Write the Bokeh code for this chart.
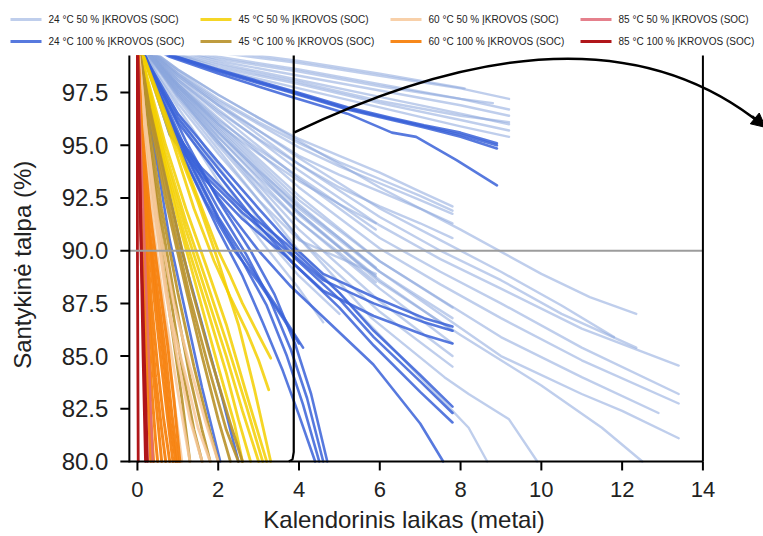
import math
from bokeh.plotting import figure
from bokeh.layouts import column
from bokeh.core.properties import value
from bokeh.models import Arrow, NormalHead, Range1d
from bokeh.embed import file_html
from bokeh.resources import INLINE

FONT = "Liberation Sans"

# ---------------- data (time in years, relative capacity in %) ----------------
x_ticks = [0, 2, 4, 6, 8, 10, 12, 14]
y_ticks = [80.0, 82.5, 85.0, 87.5, 90.0, 92.5, 95.0, 97.5]
x_title = "Kalendorinis laikas (metai)"
y_title = "Santykinė talpa (%)"

series_labels = [
    "24 °C 50 % ĮKROVOS (SOC)", "24 °C 100 % ĮKROVOS (SOC)",
    "45 °C 50 % ĮKROVOS (SOC)", "45 °C 100 % ĮKROVOS (SOC)",
    "60 °C 50 % ĮKROVOS (SOC)", "60 °C 100 % ĮKROVOS (SOC)",
    "85 °C 50 % ĮKROVOS (SOC)", "85 °C 100 % ĮKROVOS (SOC)",
]

# 24 °C, 50 % SOC
t24_50 = [
    [0, 1, 2, 4, 6, 8, 9.2], [0, 1, 2, 4, 6, 8, 9.2], [0, 1, 2, 4, 6, 8, 9.2],
    [0, 1, 2, 4, 6, 8, 9.2], [0, 1, 2, 4, 6, 8, 9.2], [0, 1, 2, 4, 6, 8, 9.2],
    [0, 1, 2, 4, 6, 8.1], [0, 1, 2, 4, 6, 8, 9.2], [0, 1, 2, 4, 6, 8, 8.8],
    [0, 1, 2, 3, 4, 5, 6, 7, 7.8], [0, 1, 2, 3, 4, 5, 6, 7, 7.8],
    [0, 1, 2, 3, 4, 5, 6, 7, 7.8], [0, 1, 2, 3, 4, 5, 6, 7, 7.8],
    [0, 1, 2, 3, 4, 5, 6, 7, 7.8],
    [0, 1, 2, 3, 4, 5, 5.9], [0, 1, 2, 3, 4, 5, 5.9],
    [0, 1, 2, 4, 6, 8, 10, 11.2, 12.35],
    [0, 1, 2, 4, 6, 7.5, 9, 10.5, 11.8],
    [0, 1, 2, 4, 6, 7.5, 9, 10.5, 12.35],
    [0, 1, 2, 4, 6, 7.5, 9, 11, 13.4],
    [0, 1, 2, 4, 6, 7.5, 9, 11, 13.4],
    [0, 1, 2, 4, 6, 7.5, 9, 11, 13.4],
    [0, 1, 2, 4, 6, 7.5, 9, 11, 12.9],
    [0, 1, 2, 4, 6, 7.5, 9, 11, 12, 13.4],
    [0, 1, 2, 4, 6, 8, 10, 11.5, 12.5],
    [0, 1, 2, 4, 5.8, 7.6, 8.2, 9.2, 9.9],
    [0, 1, 2, 4, 6, 7.6, 8.2, 8.66],
    [0, 1, 2, 4, 6, 7.8], [0, 1, 2, 4, 6, 7.8], [0, 1, 2, 4, 6, 7.8],
    [0, 1, 2, 4, 6, 7.8], [0, 1, 2, 4, 6, 7.8], [0, 1, 2, 4, 6, 7.8],
    [0, 1, 2, 3, 4, 5, 5.9], [0, 1, 2, 3, 4, 5, 5.9], [0, 1, 2, 3, 4, 5, 5.9],
    [0, 0.5, 1, 2, 3, 3.9], [0, 0.5, 1, 2, 3, 4, 4.6], [0, 0.5, 1, 2, 3, 4, 5.0],
    [0, 0.5, 1, 2, 3, 4, 5.9],
]
q24_50 = [
    [100, 99.7, 99.4, 98.9, 98.3, 97.7, 97.2], [100, 99.6, 99.2, 98.6, 97.9, 97.2, 96.7],
    [100, 99.5, 99.0, 98.3, 97.6, 96.9, 96.4], [100, 99.4, 98.9, 98.1, 97.3, 96.5, 96.0],
    [100, 99.3, 98.7, 97.9, 97.0, 96.2, 95.7], [100, 99.2, 98.6, 97.7, 96.8, 95.9, 95.4],
    [100, 99.7, 99.5, 99.0, 98.4, 97.7], [100, 99.3, 98.8, 98.0, 97.1, 96.4, 96.1],
    [100, 99.5, 99.1, 98.5, 97.8, 97.2, 97.0],
    [100, 98.6, 97.4, 96.3, 95.3, 94.5, 93.7, 92.8, 92.1],
    [100, 98.4, 97.1, 96.0, 94.9, 94.0, 93.2, 92.4, 91.75],
    [100, 98.3, 96.9, 95.7, 94.5, 93.6, 92.8, 92.0, 91.3],
    [100, 98.1, 96.6, 95.3, 94.1, 93.0, 92.1, 91.3, 90.6],
    [100, 98.5, 97.2, 96.1, 95.1, 94.2, 93.4, 92.6, 91.9],
    [100, 97.9, 96.2, 94.8, 93.5, 92.2, 91.0], [100, 97.8, 96.0, 94.6, 93.3, 92.2, 91.3],
    [100, 98.6, 97.4, 95.2, 93.0, 91.0, 88.9, 87.8, 87.0],
    [100, 98.4, 97.0, 94.4, 92.0, 90.5, 89.0, 87.4, 85.9],
    [100, 98.3, 96.9, 94.1, 91.6, 90.0, 88.6, 87.0, 85.4],
    [100, 98.2, 96.7, 93.8, 91.2, 89.6, 88.2, 86.3, 84.55],
    [100, 98.1, 96.5, 93.4, 90.6, 89.0, 87.5, 85.4, 83.2],
    [100, 98.0, 96.3, 93.0, 90.1, 88.4, 86.8, 84.8, 82.75],
    [100, 97.9, 96.1, 92.6, 89.5, 87.7, 85.9, 84.0, 82.3],
    [100, 97.8, 95.9, 92.2, 89.0, 87.0, 85.0, 83.2, 82.4, 81.1],
    [100, 97.7, 95.7, 91.8, 88.5, 86.0, 83.6, 81.6, 80.0],
    [100, 97.4, 95.2, 90.6, 86.8, 84.0, 83.2, 82.0, 80.0],
    [100, 97.2, 94.8, 90.0, 86.0, 82.8, 81.6, 80.0],
    [100, 97.9, 96.0, 92.4, 89.5, 87.3], [100, 97.8, 95.8, 92.0, 89.0, 86.8],
    [100, 97.6, 95.4, 91.4, 88.2, 85.6], [100, 97.5, 95.2, 91.0, 87.6, 85.0],
    [100, 97.4, 95.0, 90.6, 87.1, 84.5], [100, 97.7, 95.6, 91.7, 88.6, 86.2],
    [100, 97.5, 95.4, 93.5, 91.8, 90.2, 88.8], [100, 97.3, 95.1, 93.2, 91.4, 89.9, 88.5],
    [100, 97.6, 95.6, 93.8, 92.1, 90.6, 89.2],
    [100, 98.3, 96.8, 94.0, 91.5, 89.3], [100, 98.0, 96.3, 93.3, 90.6, 88.2, 86.6],
    [100, 98.1, 96.5, 93.6, 91.0, 88.8, 87.0], [100, 98.4, 97.0, 94.6, 92.4, 90.5, 88.9],
]

# 24 °C, 100 % SOC
t24_100 = [
    [0, 0.8, 2, 3.8, 5.2, 6.3, 7.1, 8, 8.9], [0, 0.8, 2, 3.8, 5.2, 6.3, 7.1, 8, 8.9],
    [0, 0.8, 2, 3.8, 5.2, 6.3, 7.1, 8, 8.9], [0, 0.8, 2, 3.8, 5.2, 6.3, 6.9, 7.9, 8.9],
    [0, 0.3, 1, 2, 3, 3.8, 4.6, 5.85, 7.1, 7.8], [0, 0.3, 1, 2, 3, 3.8, 4.6, 5.85, 7.1, 7.8],
    [0, 0.3, 1, 2, 3, 3.8, 4.6, 5.85, 7.1, 7.8],
    [0, 0.2, 0.8, 1.6, 2.6, 3.7, 5.0, 5.85, 7.0, 7.8],
    [0, 0.2, 0.8, 1.6, 2.6, 3.7, 5.0, 5.85, 7.0, 7.8],
    [0, 0.2, 0.8, 1.6, 2.6, 3.7, 5.0, 5.85, 7.0, 7.8],
    [0, 0.3, 1, 2, 3, 3.8, 5.84, 7.0, 7.57],
    [0, 0.5, 1.2, 2.0, 2.6, 3.2, 3.7, 4.1, 4.5],
    [0, 0.5, 1.2, 2.0, 2.7, 3.3, 3.8, 4.2, 4.6],
    [0, 0.5, 1.2, 2.0, 2.8, 3.4, 3.9, 4.3, 4.7],
    [0, 0.5, 1.2, 2.0, 2.6, 3.1, 3.6, 4.0, 4.4],
    [0, 0.5, 1.2, 2.0, 2.8, 3.5, 4.1],
    [0, 0.2, 0.5, 0.8, 1.2, 1.6, 2.05],
    [0, 0.3, 0.7, 1.1, 1.6, 2.1, 2.5],
    [0, 0.4, 1.0, 1.7, 2.4, 3.0, 3.6, 4.0],
]
q24_100 = [
    [100, 99.3, 98.6, 97.6, 96.8, 96.3, 95.95, 95.6, 95.1],
    [100, 99.25, 98.5, 97.5, 96.7, 96.2, 95.85, 95.4, 94.85],
    [100, 99.3, 98.55, 97.55, 96.75, 96.25, 95.9, 95.5, 95.0],
    [100, 99.2, 98.4, 97.3, 96.5, 95.6, 95.4, 94.3, 93.1],
    [100, 98.8, 96.5, 94.2, 92.0, 90.3, 88.9, 87.8, 86.8, 86.4],
    [100, 98.7, 96.3, 93.9, 91.6, 89.9, 88.6, 87.5, 86.6, 86.2],
    [100, 98.6, 96.1, 93.6, 91.2, 89.5, 88.1, 86.9, 86.0, 85.6],
    [100, 99.2, 95.9, 93.9, 92.0, 90.3, 88.0, 86.2, 84.1, 82.6],
    [100, 99.1, 95.7, 93.7, 91.8, 90.0, 87.7, 85.9, 83.8, 82.3],
    [100, 99.0, 95.5, 93.5, 91.5, 89.7, 87.3, 85.5, 83.3, 81.85],
    [100, 98.5, 95.5, 92.5, 90.0, 88.3, 84.6, 81.8, 80.0],
    [100, 97.6, 94.5, 91.5, 89.5, 87.4, 85.0, 82.7, 80.0],
    [100, 97.8, 94.8, 92.0, 89.8, 87.6, 85.3, 83.0, 80.0],
    [100, 98.0, 95.2, 92.4, 90.0, 87.9, 85.6, 83.2, 80.0],
    [100, 97.4, 94.2, 91.0, 88.8, 86.6, 84.3, 82.2, 80.0],
    [100, 97.6, 94.6, 91.6, 89.2, 87.2, 85.4],
    [100, 97.0, 94.0, 90.5, 87.0, 83.5, 80.0],
    [100, 97.0, 93.5, 90.0, 86.5, 83.0, 80.0],
    [100, 97.9, 95.0, 92.3, 90.0, 88.5, 86.8, 85.6],
]

# 45 °C, 50 % SOC
t45_50 = [
    [0, 0.3, 0.7, 1.2, 1.7, 2.2, 2.7, 3.2], [0, 0.3, 0.7, 1.2, 1.7, 2.2, 2.7, 3.1],
    [0, 0.3, 0.7, 1.2, 1.7, 2.2, 2.6, 3.0], [0, 0.3, 0.7, 1.2, 1.7, 2.2, 2.5, 2.8],
    [0, 0.3, 0.6, 1.0, 1.5, 2.0, 2.4, 2.6],
    [0, 0.4, 0.9, 1.5, 2.0, 2.3, 2.6, 3.0, 3.3],
    [0, 0.4, 0.9, 1.4, 1.9, 2.3, 2.7, 3.0, 3.25],
    [0, 0.4, 0.9, 1.5, 2.0, 2.5, 2.9, 3.3],
]
q45_50 = [
    [100, 97.8, 95.0, 92.0, 89.3, 86.5, 83.2, 80.0], [100, 97.6, 94.6, 91.4, 88.6, 85.7, 82.6, 80.0],
    [100, 97.4, 94.3, 91.0, 88.0, 85.0, 82.4, 80.0], [100, 97.2, 94.0, 90.5, 87.4, 84.2, 82.0, 80.0],
    [100, 97.0, 94.6, 91.5, 88.0, 84.5, 81.8, 80.0],
    [100, 98.0, 95.5, 92.5, 90.0, 88.8, 87.5, 86.0, 84.9],
    [100, 97.8, 95.0, 92.0, 89.5, 87.8, 86.2, 84.8, 83.4],
    [100, 97.9, 95.3, 92.3, 89.5, 86.5, 83.4, 80.0],
]

# 45 °C, 100 % SOC
t45_100 = [
    [0, 0.3, 0.8, 1.3, 1.8, 2.3, 2.6], [0, 0.3, 0.8, 1.3, 1.8, 2.2, 2.5],
    [0, 0.3, 0.7, 1.2, 1.6, 2.0, 2.3], [0, 0.25, 0.6, 1.0, 1.4, 1.8, 2.0],
    [0, 0.2, 0.5, 0.9, 1.3, 1.6, 1.8], [0, 0.2, 0.5, 0.8, 1.1, 1.4, 1.6],
    [0, 0.2, 0.5, 0.8, 1.1, 1.3],
]
q45_100 = [
    [100, 96.8, 92.5, 88.5, 85.0, 81.8, 80.0], [100, 96.6, 92.0, 87.8, 84.2, 81.5, 80.0],
    [100, 96.4, 92.4, 88.2, 85.0, 82.0, 80.0], [100, 96.4, 92.0, 88.0, 84.5, 81.4, 80.0],
    [100, 96.5, 92.5, 88.0, 84.0, 81.5, 80.0], [100, 96.2, 92.0, 88.0, 84.5, 81.5, 80.0],
    [100, 95.5, 91.0, 87.0, 83.0, 80.0],
]

# 60 °C, 50 % SOC
t60_50 = [
    [0, 0.2, 0.5, 0.9, 1.3, 1.7, 2.0], [0, 0.2, 0.5, 0.8, 1.2, 1.5, 1.8],
    [0, 0.2, 0.4, 0.7, 1.0, 1.3, 1.6], [0, 0.15, 0.4, 0.7, 1.0, 1.3],
    [0, 0.15, 0.35, 0.6, 0.9, 1.1], [0, 0.1, 0.3, 0.55, 0.8, 0.95],
]
q60_50 = [
    [100, 96.0, 91.5, 87.5, 84.5, 81.8, 80.0], [100, 96.0, 91.0, 87.0, 84.0, 81.6, 80.0],
    [100, 95.5, 92.0, 88.0, 84.8, 82.0, 80.0], [100, 95.5, 91.0, 86.8, 83.3, 80.0],
    [100, 95.0, 91.0, 87.0, 83.0, 80.0], [100, 95.5, 91.0, 86.5, 82.5, 80.0],
]

# 60 °C, 100 % SOC
t60_100 = [
    [0, 0.1, 0.3, 0.5, 0.75, 0.9, 1.05], [0, 0.1, 0.3, 0.5, 0.7, 0.85, 1.0],
    [0, 0.1, 0.25, 0.45, 0.65, 0.8, 0.95], [0, 0.1, 0.2, 0.4, 0.6, 0.75, 0.88],
    [0, 0.08, 0.2, 0.35, 0.5, 0.65, 0.8], [0, 0.07, 0.18, 0.3, 0.45, 0.6, 0.7],
    [0, 0.06, 0.15, 0.25, 0.4, 0.5, 0.6], [0, 0.05, 0.12, 0.22, 0.33, 0.45, 0.5],
    [0, 0.05, 0.1, 0.2, 0.3, 0.4], [0, 0.04, 0.09, 0.17, 0.26, 0.33],
]
q60_100 = [
    [100, 96.0, 92.0, 89.0, 85.5, 83.0, 80.0], [100, 95.5, 91.0, 88.0, 85.0, 82.3, 80.0],
    [100, 95.5, 91.5, 88.0, 84.8, 82.0, 80.0], [100, 95.0, 92.0, 88.0, 84.5, 82.0, 80.0],
    [100, 95.0, 91.0, 87.5, 84.5, 82.0, 80.0], [100, 95.0, 91.0, 87.5, 84.0, 81.5, 80.0],
    [100, 95.0, 91.0, 88.0, 84.0, 82.0, 80.0], [100, 95.0, 91.0, 87.5, 84.0, 81.0, 80.0],
    [100, 95.5, 91.5, 87.0, 83.0, 80.0], [100, 95.5, 91.0, 86.5, 83.0, 80.0],
]

# 85 °C, 50 % SOC
t85_50 = [[0, 0.08, 0.18, 0.28, 0.38]]
q85_50 = [[100, 95.0, 90.0, 85.0, 80.0]]

# 85 °C, 100 % SOC
t85_100 = [[0, 0.0, 0.0, 0.01, 0.02], [0, 0.04, 0.09, 0.14, 0.2], [0, 0.05, 0.1, 0.17, 0.25]]
q85_100 = [[100, 95.0, 90.0, 85.0, 80.0], [100, 95.0, 90.0, 85.0, 80.0], [100, 95.0, 90.0, 85.0, 80.0]]

# ---------------- geometry ----------------
W, H_LEG, H_MAIN = 763, 55, 481
X_START, X_END = -3.39, 15.5          # x range of the drawing area
Y_START, Y_END = 76.44, 99.26         # y range of the drawing area
AX_X0, AX_X1 = -0.2, 14               # extent of the x axis
AX_Y0 = 80.0                          # y axis starts here
THRESHOLD = 90.0
ZOOM_X = 3.87
ARC = dict(x0=3.886, y0=95.61, cx=11.39, cy=102.49, x1=15.55, y1=95.85)
PX_X = W / (X_END - X_START)          # pixels per year
PX_Y = H_MAIN / (Y_END - Y_START)     # pixels per percent
TICK = 9                              # tick length, px
STANDOFF = 12                         # tick label standoff, px

# legend strip layout (pixels from the strip's top-left)
LEG_COL_X = [10, 200, 390, 580]
LEG_ROW_Y = [19, 41]
LEG_SAMPLE = 31
LEG_GAP = 7

styles = [
    dict(color="#8aa6dc", alpha=0.55, width=2.4),
    dict(color="#3a62d8", alpha=0.85, width=2.6),
    dict(color="#f3cf00", alpha=0.85, width=2.8),
    dict(color="#b8912a", alpha=0.9, width=2.8),
    dict(color="#f7c89a", alpha=0.85, width=2.8),
    dict(color="#f7820f", alpha=0.95, width=3.0),
    dict(color="#e06a78", alpha=0.85, width=2.4),
    dict(color="#b0161a", alpha=1.0, width=2.8),
]

# ---------------- legend strip ----------------
leg = figure(width=W, height=H_LEG, output_backend="svg", toolbar_location=None,
             x_range=Range1d(0, W), y_range=Range1d(H_LEG, 0),
             x_axis_type=None, y_axis_type=None, min_border=0)
leg.outline_line_color = None
leg.grid.visible = False
leg.background_fill_color = "white"
leg.border_fill_color = "white"
lx = [LEG_COL_X[i // 2] for i in range(len(series_labels))]
ly = [LEG_ROW_Y[i % 2] for i in range(len(series_labels))]
leg.segment(x0=lx, y0=ly, x1=[v + LEG_SAMPLE for v in lx], y1=ly,
            line_color=[s["color"] for s in styles], line_alpha=[s["alpha"] for s in styles],
            line_width=3)
leg.text(x=[v + LEG_SAMPLE + LEG_GAP for v in lx], y=ly, text=series_labels,
         text_font=value(FONT), text_font_size=value("10px"), text_color="#222222",
         text_align="left", text_baseline="middle")

# ---------------- main chart ----------------
p = figure(width=W, height=H_MAIN, output_backend="svg", toolbar_location=None,
           x_range=Range1d(X_START, X_END), y_range=Range1d(Y_START, Y_END),
           x_axis_type=None, y_axis_type=None, min_border=0)
p.outline_line_color = None
p.grid.visible = False
p.background_fill_color = "white"
p.border_fill_color = "white"

groups = [(t24_50, q24_50), (t24_100, q24_100), (t45_50, q45_50), (t45_100, q45_100),
          (t60_50, q60_50), (t60_100, q60_100), (t85_50, q85_50), (t85_100, q85_100)]
for (xs, ys), st in zip(groups, styles):
    p.multi_line(xs=xs, ys=ys, line_color=st["color"], line_alpha=st["alpha"],
                 line_width=st["width"], line_cap="round", line_join="round")

# 90 % threshold line
p.segment(x0=[AX_X0], y0=[THRESHOLD], x1=[AX_X1], y1=[THRESHOLD],
          line_color="#9c9c9c", line_width=2)
# right border line at the end of the x axis
p.segment(x0=[AX_X1], y0=[AX_Y0], x1=[AX_X1], y1=[Y_END + 1], line_color="black", line_width=2)
# zoom bracket
p.line(x=[ZOOM_X, ZOOM_X, ZOOM_X - 0.03, ZOOM_X - 0.12],
       y=[Y_END + 1, AX_Y0 + 0.45, AX_Y0 + 0.1, AX_Y0],
       line_color="black", line_width=2.2)
# curved arrow
p.quadratic(x0=[ARC["x0"]], y0=[ARC["y0"]], x1=[ARC["x1"]], y1=[ARC["y1"]],
            cx=[ARC["cx"]], cy=[ARC["cy"]], line_color="black", line_width=2.5)
dxa, dya = ARC["x1"] - ARC["cx"], ARC["y1"] - ARC["cy"]
p.add_layout(Arrow(end=NormalHead(size=14, fill_color="black", line_color="black"),
                   x_start=ARC["x1"] - 0.08 * dxa, y_start=ARC["y1"] - 0.08 * dya,
                   x_end=ARC["x1"], y_end=ARC["y1"], line_color="black", line_width=2.5))

# ---- axes (drawn on the chart's own data scales) ----
# x axis
p.segment(x0=[AX_X0], y0=[AX_Y0], x1=[AX_X1], y1=[AX_Y0], line_color="black", line_width=2)
p.segment(x0=x_ticks, y0=[AX_Y0] * len(x_ticks), x1=x_ticks,
          y1=[AX_Y0 - TICK / PX_Y] * len(x_ticks), line_color="black", line_width=2)
p.text(x=x_ticks, y=[AX_Y0 - (TICK + STANDOFF) / PX_Y] * len(x_ticks),
       text=[str(v) for v in x_ticks], text_font=value(FONT), text_font_size=value("22px"),
       text_color="#222222", text_align="center", text_baseline="top")
p.text(x=[(AX_X0 + AX_X1) / 2 - 0.3], y=[AX_Y0 - 45 / PX_Y], text=[x_title],
       text_font=value(FONT), text_font_size=value("24px"), text_color="#222222",
       text_align="center", text_baseline="top")
# y axis
p.segment(x0=[AX_X0], y0=[AX_Y0 - 1 / PX_Y], x1=[AX_X0], y1=[Y_END + 1],
          line_color="black", line_width=2)
p.segment(x0=[AX_X0] * len(y_ticks), y0=y_ticks, x1=[AX_X0 - TICK / PX_X] * len(y_ticks),
          y1=y_ticks, line_color="black", line_width=2)
p.text(x=[AX_X0 - (TICK + STANDOFF) / PX_X] * len(y_ticks), y=y_ticks,
       text=[f"{v:.1f}" for v in y_ticks], text_font=value(FONT),
       text_font_size=value("24px"), text_color="#222222",
       text_align="right", text_baseline="middle")
p.text(x=[AX_X0 - 107 / PX_X], y=[(AX_Y0 + Y_END) / 2 - 0.3], text=[y_title],
       angle=[math.pi / 2], text_font=value(FONT), text_font_size=value("24px"),
       text_color="#222222", text_align="center", text_baseline="middle")

open("out.html", "w").write(file_html(column(leg, p, spacing=0), INLINE))
